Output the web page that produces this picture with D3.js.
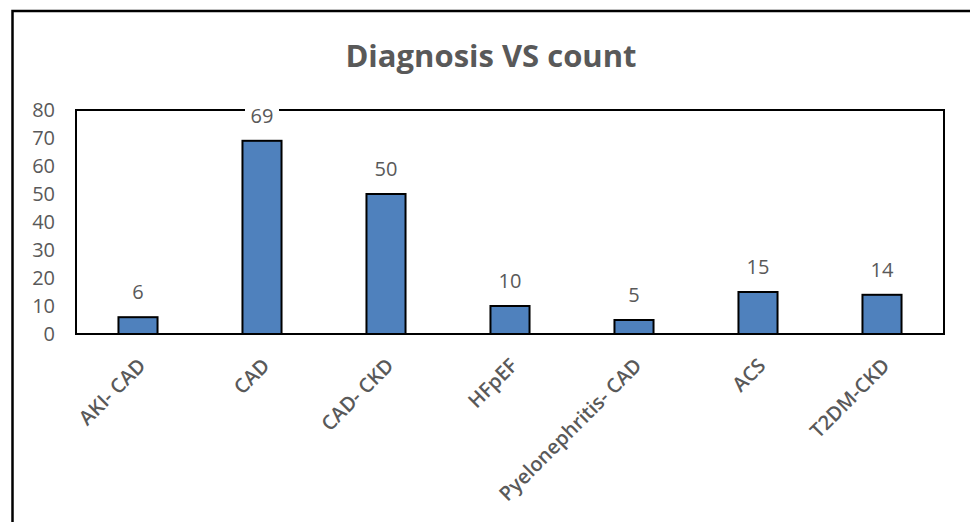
<!DOCTYPE html>
<html>
<head>
<meta charset="utf-8">
<script src="https://cdn.jsdelivr.net/npm/d3@7"></script>
<style>
  html, body { margin: 0; padding: 0; background: #fff; }
  svg { display: block; }
  text { font-family: "Open Sans", Lato, sans-serif; fill: #595959; }
</style>
</head>
<body>
<svg id="chart" width="970" height="522"></svg>
<script>
// Diagnosis counts
const categories = ["AKI- CAD", "CAD", "CAD- CKD", "HFpEF", "Pyelonephritis- CAD", "ACS", "T2DM-CKD"];
const counts = [6, 69, 50, 10, 5, 15, 14];
const yTicks = [0, 10, 20, 30, 40, 50, 60, 70, 80];
const chartTitle = "Diagnosis VS count";

const svg = d3.select("#chart");
const W = 970, H = 522;
const plot = { left: 76, right: 944, top: 110, bottom: 334 };

// Outer frame (runs past the right and bottom edges of the view)
svg.append("rect")
  .attr("x", 12.5).attr("y", 11)
  .attr("width", W + 20).attr("height", H + 20)
  .attr("fill", "#fff").attr("stroke", "#000").attr("stroke-width", 2.5);

const x = d3.scaleBand()
  .domain(categories)
  .range([plot.left, plot.right])
  .paddingInner(0.685)
  .paddingOuter(0.3425);

const y = d3.scaleLinear()
  .domain([0, 80])
  .range([plot.bottom, plot.top]);

// Title
svg.append("text")
  .attr("x", 491).attr("y", 67)
  .attr("text-anchor", "middle")
  .attr("font-family", "Lato, 'Open Sans', sans-serif")
  .attr("font-size", 31)
  .attr("font-weight", "bold")
  .text(chartTitle);

// Plot area border
svg.append("rect")
  .attr("x", plot.left).attr("y", plot.top)
  .attr("width", plot.right - plot.left).attr("height", plot.bottom - plot.top)
  .attr("fill", "none").attr("stroke", "#000").attr("stroke-width", 2);

// Y axis labels
const yAxis = d3.axisLeft(y).tickValues(yTicks).tickSize(0).tickPadding(0);
const yG = svg.append("g")
  .attr("transform", `translate(${plot.left - 21},0)`)
  .call(yAxis);
yG.select(".domain").remove();
yG.selectAll("text")
  .attr("font-size", 20)
  .attr("font-family", "'Open Sans', Lato, sans-serif")
  .attr("fill", "#595959");

// Bars
svg.append("g").selectAll("rect")
  .data(categories)
  .join("rect")
  .attr("x", d => x(d))
  .attr("y", (d, i) => y(counts[i]))
  .attr("width", x.bandwidth())
  .attr("height", (d, i) => y(0) - y(counts[i]))
  .attr("fill", "#4f81bd")
  .attr("stroke", "#000")
  .attr("stroke-width", 2);

// Value labels (white backing so they sit over the frame line)
const labels = svg.append("g").selectAll("g")
  .data(categories)
  .join("g")
  .attr("transform", (d, i) => `translate(${x(d) + x.bandwidth() / 2},${y(counts[i]) - 18})`);
labels.append("rect")
  .attr("x", -17).attr("y", -17).attr("width", 34).attr("height", 19)
  .attr("fill", "#fff");
labels.append("text")
  .attr("text-anchor", "middle")
  .attr("font-size", 20)
  .text((d, i) => counts[i]);

// Category labels, rotated
svg.append("g").selectAll("text")
  .data(categories)
  .join("text")
  .attr("transform", d => `translate(${x(d) + x.bandwidth() / 2 - 1},${plot.bottom + 23}) rotate(-45)`)
  .attr("text-anchor", "end")
  .attr("dy", "0.7em")
  .attr("font-size", 20)
  .attr("font-weight", 600)
  .text(d => d);
</script>
</body>
</html>
